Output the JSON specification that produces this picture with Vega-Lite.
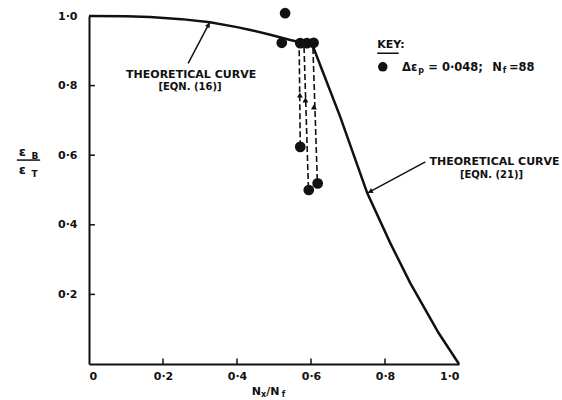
{
  "$schema": "https://vega.github.io/schema/vega-lite/v6.json",
  "width": 370,
  "height": 348,
  "autosize": "none",
  "padding": {"left": 89, "top": 16, "right": 103, "bottom": 36},
  "background": "white",
  "config": {
    "view": {"stroke": null},
    "font": "DejaVu Sans",
    "text": {"font": "DejaVu Sans", "fontWeight": "bold", "color": "#111"}
  },
  "datasets": {
    "curve": [
      {"x": 0.0, "y": 1.0}, {"x": 0.1, "y": 0.999}, {"x": 0.165, "y": 0.997},
      {"x": 0.25, "y": 0.991}, {"x": 0.327, "y": 0.982}, {"x": 0.4, "y": 0.968},
      {"x": 0.436, "y": 0.96}, {"x": 0.49, "y": 0.946}, {"x": 0.544, "y": 0.931},
      {"x": 0.585, "y": 0.921}, {"x": 0.606, "y": 0.911}, {"x": 0.679, "y": 0.71},
      {"x": 0.752, "y": 0.491}, {"x": 0.814, "y": 0.348}, {"x": 0.868, "y": 0.233},
      {"x": 0.945, "y": 0.089}, {"x": 1.0, "y": 0.0}
    ],
    "points": [
      {"x": 0.53, "y": 1.008}, {"x": 0.521, "y": 0.923}, {"x": 0.571, "y": 0.922},
      {"x": 0.589, "y": 0.922}, {"x": 0.607, "y": 0.923}, {"x": 0.571, "y": 0.624},
      {"x": 0.594, "y": 0.5}, {"x": 0.618, "y": 0.519}
    ],
    "dashes": [
      {"id": "A", "o": 1, "x": 0.571, "y": 0.626}, {"id": "A", "o": 2, "x": 0.568, "y": 0.917},
      {"id": "B", "o": 1, "x": 0.593, "y": 0.506}, {"id": "B", "o": 2, "x": 0.581, "y": 0.917},
      {"id": "C", "o": 1, "x": 0.617, "y": 0.529}, {"id": "C", "o": 2, "x": 0.605, "y": 0.917}
    ],
    "dashArrows": [
      {"x": 0.57, "y": 0.773}, {"x": 0.585, "y": 0.759}, {"x": 0.608, "y": 0.739}
    ],
    "pointers": [
      {"id": "p16", "o": 1, "x": 0.268, "y": 0.864}, {"id": "p16", "o": 2, "x": 0.327, "y": 0.983},
      {"id": "p21", "o": 1, "x": 0.909, "y": 0.581}, {"id": "p21", "o": 2, "x": 0.752, "y": 0.491}
    ],
    "rules": [
      {"x": -0.195, "x2": -0.132, "y": 0.586},
      {"x": 0.779, "x2": 0.837, "y": 0.893}
    ],
    "xticks": [
      {"x": 0.2, "y": 0, "y2": 0.016}, {"x": 0.4, "y": 0, "y2": 0.016},
      {"x": 0.6, "y": 0, "y2": 0.016}, {"x": 0.8, "y": 0, "y2": 0.016}
    ],
    "yticks": [
      {"y": 0.2, "x": 0, "x2": 0.016}, {"y": 0.4, "x": 0, "x2": 0.016},
      {"y": 0.6, "x": 0, "x2": 0.016}, {"y": 0.8, "x": 0, "x2": 0.016}
    ],
    "labels": [
      {"g": "c11", "x": 0.276, "y": 0.83, "text": "THEORETICAL  CURVE"},
      {"g": "c11", "x": 1.096, "y": 0.58, "text": "THEORETICAL  CURVE"},
      {"g": "c10", "x": 0.273, "y": 0.795, "text": "[EQN. (16)]"},
      {"g": "c10", "x": 1.088, "y": 0.543, "text": "[EQN. (21)]"},
      {"g": "l11", "x": 0.779, "y": 0.917, "text": "KEY:"},
      {"g": "l12", "x": 0.846, "y": 0.851, "text": "Δε"},
      {"g": "l9", "x": 0.89, "y": 0.841, "text": "p"},
      {"g": "l12", "x": 0.917, "y": 0.851, "text": "= 0·048;"},
      {"g": "l12", "x": 1.09, "y": 0.851, "text": "N"},
      {"g": "l9", "x": 1.118, "y": 0.841, "text": "f"},
      {"g": "l12", "x": 1.135, "y": 0.851, "text": "=88"},
      {"g": "l11", "x": 0.44, "y": -0.08, "text": "N"},
      {"g": "l8", "x": 0.465, "y": -0.088, "text": "x"},
      {"g": "l11", "x": 0.479, "y": -0.08, "text": "/N"},
      {"g": "l8", "x": 0.521, "y": -0.088, "text": "f"},
      {"g": "c15", "x": -0.18, "y": 0.609, "text": "ε"},
      {"g": "c9", "x": -0.146, "y": 0.598, "text": "B"},
      {"g": "c15", "x": -0.18, "y": 0.558, "text": "ε"},
      {"g": "c9", "x": -0.147, "y": 0.547, "text": "T"}
    ]
  },
  "encoding": {
    "x": {
      "field": "x", "type": "quantitative",
      "scale": {"domain": [0, 1], "nice": false, "zero": false},
      "axis": {
        "values": [0, 0.2, 0.4, 0.6, 0.8, 1],
        "labelExpr": "datum.value == 0 ? '0    ' : datum.value == 1 ? '    1·0' : replace(format(datum.value, '.1f'), '.', '·')",
        "title": null, "grid": false, "ticks": false,
        "domainColor": "#111", "domainWidth": 2,
        "labelPadding": 6, "labelFont": "DejaVu Sans", "labelFontWeight": "bold",
        "labelFontSize": 11, "labelColor": "#111"
      }
    },
    "y": {
      "field": "y", "type": "quantitative",
      "scale": {"domain": [0, 1], "nice": false, "zero": false},
      "axis": {
        "values": [0.2, 0.4, 0.6, 0.8, 1],
        "labelExpr": "replace(format(datum.value, '.1f'), '.', '·')",
        "title": null, "grid": false, "ticks": false,
        "domainColor": "#111", "domainWidth": 2,
        "labelPadding": 12, "labelFont": "DejaVu Sans", "labelFontWeight": "bold",
        "labelFontSize": 11, "labelColor": "#111"
      }
    }
  },
  "layer": [
    {
      "data": {"name": "curve"},
      "mark": {"type": "line", "color": "#111", "strokeWidth": 2.5},
      "encoding": {}
    },
    {
      "data": {"name": "xticks"},
      "mark": {"type": "rule", "color": "#111", "strokeWidth": 1.5},
      "encoding": {"y2": {"field": "y2"}}
    },
    {
      "data": {"name": "yticks"},
      "mark": {"type": "rule", "color": "#111", "strokeWidth": 1.5},
      "encoding": {"x2": {"field": "x2"}}
    },
    {
      "data": {"name": "dashes"},
      "mark": {"type": "line", "color": "#111", "strokeWidth": 1.6, "strokeDash": [6, 3]},
      "encoding": {"detail": {"field": "id"}, "order": {"field": "o"}}
    },
    {
      "data": {"name": "points"},
      "mark": {"type": "point", "shape": "circle", "filled": true, "color": "#111", "opacity": 1, "size": 115}
    },
    {
      "data": {"name": "dashArrows"},
      "mark": {"type": "point", "shape": "triangle-up", "filled": true, "color": "#111", "opacity": 1, "size": 35}
    },
    {
      "data": {"name": "pointers"},
      "mark": {"type": "line", "color": "#111", "strokeWidth": 1.5},
      "encoding": {"detail": {"field": "id"}, "order": {"field": "o"}}
    },
    {
      "data": {"name": "pointers"},
      "transform": [{"filter": "datum.id == 'p16' && datum.o == 2"}],
      "mark": {"type": "point", "shape": "triangle-up", "filled": true, "color": "#111", "opacity": 1, "size": 30, "angle": 28, "yOffset": 3, "xOffset": -1.5}
    },
    {
      "data": {"name": "pointers"},
      "transform": [{"filter": "datum.id == 'p21' && datum.o == 2"}],
      "mark": {"type": "point", "shape": "triangle-up", "filled": true, "color": "#111", "opacity": 1, "size": 30, "angle": 242, "xOffset": 3, "yOffset": -1.5}
    },
    {
      "data": {"name": "rules"},
      "mark": {"type": "rule", "color": "#111", "strokeWidth": 1.5},
      "encoding": {"x2": {"field": "x2"}}
    },
    {
      "data": {"values": [{"x": 0.794, "y": 0.854}]},
      "mark": {"type": "point", "shape": "circle", "filled": true, "color": "#111", "opacity": 1, "size": 90}
    },
    {
      "data": {"name": "labels"},
      "transform": [{"filter": "datum.g == 'c11'"}],
      "mark": {"type": "text", "fontSize": 11, "align": "center", "baseline": "middle"},
      "encoding": {"text": {"field": "text"}}
    },
    {
      "data": {"name": "labels"},
      "transform": [{"filter": "datum.g == 'c10'"}],
      "mark": {"type": "text", "fontSize": 10, "align": "center", "baseline": "middle"},
      "encoding": {"text": {"field": "text"}}
    },
    {
      "data": {"name": "labels"},
      "transform": [{"filter": "datum.g == 'c15'"}],
      "mark": {"type": "text", "fontSize": 13, "align": "center", "baseline": "middle"},
      "encoding": {"text": {"field": "text"}}
    },
    {
      "data": {"name": "labels"},
      "transform": [{"filter": "datum.g == 'c9'"}],
      "mark": {"type": "text", "fontSize": 9, "align": "center", "baseline": "middle"},
      "encoding": {"text": {"field": "text"}}
    },
    {
      "data": {"name": "labels"},
      "transform": [{"filter": "datum.g == 'l11'"}],
      "mark": {"type": "text", "fontSize": 11, "align": "left", "baseline": "middle"},
      "encoding": {"text": {"field": "text"}}
    },
    {
      "data": {"name": "labels"},
      "transform": [{"filter": "datum.g == 'l12'"}],
      "mark": {"type": "text", "fontSize": 11.5, "align": "left", "baseline": "middle"},
      "encoding": {"text": {"field": "text"}}
    },
    {
      "data": {"name": "labels"},
      "transform": [{"filter": "datum.g == 'l9' || datum.g == 'l8'"}],
      "mark": {"type": "text", "fontSize": 8, "align": "left", "baseline": "middle"},
      "encoding": {"text": {"field": "text"}}
    }
  ]
}
